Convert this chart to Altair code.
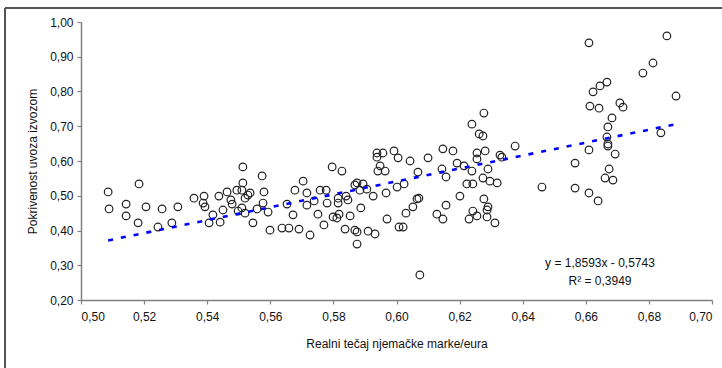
import altair as alt
import pandas as pd

x_vals = [0.5086, 0.5089, 0.5143, 0.5143, 0.5184, 0.5181, 0.5206, 0.5244, 0.5257, 0.5288,
          0.5307, 0.5358, 0.5390, 0.5387, 0.5393, 0.5418, 0.5406, 0.5441, 0.5450, 0.5437,
          0.5463, 0.5475, 0.5479, 0.5494, 0.5498, 0.5513, 0.5513, 0.5510, 0.5529, 0.5536,
          0.5520, 0.5510, 0.5520, 0.5545, 0.5574, 0.5580, 0.5577, 0.5558, 0.5593, 0.5599,
          0.5637, 0.5659, 0.5691, 0.5726, 0.5653, 0.5672, 0.5678, 0.5704, 0.5716, 0.5739,
          0.5716, 0.5751, 0.5770, 0.5758, 0.5777, 0.5780, 0.5796, 0.5827, 0.5799, 0.5811,
          0.5818, 0.5815, 0.5815, 0.5840, 0.5846, 0.5853, 0.5837, 0.5868, 0.5875, 0.5875,
          0.5910, 0.5932, 0.5887, 0.5868, 0.5875, 0.5894, 0.5906, 0.5884, 0.5926, 0.5938,
          0.5957, 0.5938, 0.5948, 0.5941, 0.5964, 0.5967, 0.5992, 0.6005, 0.6002, 0.5970,
          0.6008, 0.6277, 0.6239, 0.6262, 0.6274, 0.6043, 0.6100, 0.6147, 0.6179, 0.6255,
          0.6255, 0.6281, 0.6328, 0.6334, 0.6192, 0.6214, 0.6239, 0.6290, 0.6144, 0.6157,
          0.6068, 0.6274, 0.6296, 0.6319, 0.6223, 0.6242, 0.6024, 0.6201, 0.6065, 0.6071,
          0.6052, 0.6030, 0.6021, 0.6157, 0.6128, 0.6147, 0.6242, 0.6255, 0.6230, 0.6277,
          0.6290, 0.6287, 0.6287, 0.6312, 0.6074, 0.6610, 0.6857, 0.6813, 0.6781, 0.6667,
          0.6645, 0.6623, 0.6613, 0.6642, 0.6708, 0.6718, 0.6886, 0.6683, 0.6670, 0.6667,
          0.6670, 0.6670, 0.6693, 0.6610, 0.6566, 0.6838, 0.6376, 0.6461, 0.6566, 0.6610,
          0.6639, 0.6674, 0.6661, 0.6686]
y_vals = [0.511, 0.462, 0.476, 0.442, 0.534, 0.422, 0.468, 0.410, 0.462, 0.422,
          0.468, 0.493, 0.499, 0.479, 0.468, 0.445, 0.422, 0.424, 0.459, 0.499,
          0.511, 0.488, 0.476, 0.516, 0.456, 0.583, 0.537, 0.516, 0.502, 0.508,
          0.493, 0.465, 0.450, 0.422, 0.557, 0.511, 0.479, 0.462, 0.453, 0.401,
          0.407, 0.407, 0.404, 0.387, 0.476, 0.445, 0.516, 0.542, 0.508, 0.485,
          0.473, 0.447, 0.416, 0.516, 0.516, 0.479, 0.583, 0.571, 0.439, 0.436,
          0.447, 0.493, 0.479, 0.499, 0.488, 0.442, 0.404, 0.401, 0.396, 0.361,
          0.398, 0.390, 0.465, 0.531, 0.537, 0.534, 0.519, 0.516, 0.499, 0.623,
          0.623, 0.611, 0.586, 0.571, 0.571, 0.508, 0.629, 0.609, 0.525, 0.433,
          0.410, 0.738, 0.706, 0.678, 0.672, 0.600, 0.609, 0.635, 0.629, 0.623,
          0.606, 0.629, 0.617, 0.611, 0.594, 0.586, 0.571, 0.577, 0.577, 0.554,
          0.568, 0.551, 0.542, 0.537, 0.534, 0.534, 0.534, 0.499, 0.491, 0.493,
          0.468, 0.450, 0.410, 0.473, 0.447, 0.433, 0.456, 0.442, 0.433, 0.491,
          0.468, 0.459, 0.439, 0.422, 0.272, 0.940, 0.960, 0.882, 0.853, 0.827,
          0.816, 0.799, 0.758, 0.752, 0.767, 0.755, 0.787, 0.724, 0.698, 0.669,
          0.649, 0.643, 0.620, 0.632, 0.594, 0.681, 0.643, 0.525, 0.522, 0.508,
          0.485, 0.577, 0.551, 0.545]

# Linear trend reported on the chart
slope = 1.8593
intercept = -0.5743
eq_labels = ["y = 1,8593x - 0,5743", "R² = 0,3949"]
eq_x = [0.6645, 0.6645]
eq_y = [0.306, 0.255]

x_ticks = [0.50, 0.52, 0.54, 0.56, 0.58, 0.60, 0.62, 0.64, 0.66, 0.68, 0.70]
y_ticks = [0.20, 0.30, 0.40, 0.50, 0.60, 0.70, 0.80, 0.90, 1.00]

x_title = "Realni tečaj njemačke marke/eura"
y_title = "Pokrivenost uvoza izvozom"

FONT = "Liberation Sans"
LABEL_EXPR = "replace(format(datum.value, '.2f'), '.', ',')"

pts = pd.DataFrame({"x": x_vals, "y": y_vals})
x_lo, x_hi = min(x_vals), max(x_vals)
trend = pd.DataFrame({"x": [x_lo, x_hi],
                      "y": [slope * x_lo + intercept, slope * x_hi + intercept]})
eq = pd.DataFrame({"x": eq_x, "y": eq_y, "label": eq_labels})

X = alt.X("x:Q", title=x_title,
          scale=alt.Scale(domain=[0.5, 0.7], nice=False, zero=False),
          axis=alt.Axis(values=x_ticks, labelExpr=LABEL_EXPR, grid=False,
                        domainColor="#808080", domainWidth=1.5,
                        tickColor="#808080", tickWidth=1.2, tickSize=4,
                        labelPadding=7, labelFontSize=12, labelColor="#111",
                        labelFont=FONT, titleFont=FONT, titleFontSize=12,
                        titleFontWeight="normal", titleColor="#111",
                        titlePadding=16))
Y = alt.Y("y:Q", title=y_title,
          scale=alt.Scale(domain=[0.2, 1.0], nice=False, zero=False),
          axis=alt.Axis(values=y_ticks, labelExpr=LABEL_EXPR, grid=False,
                        domainColor="#808080", domainWidth=1.5,
                        tickColor="#808080", tickWidth=1.2, tickSize=4,
                        labelPadding=4, labelFontSize=12, labelColor="#111",
                        labelFont=FONT, titleFont=FONT, titleFontSize=12,
                        titleFontWeight="normal", titleColor="#111",
                        titlePadding=10))

points = alt.Chart(pts).mark_point(
    shape="circle", filled=False, size=58, stroke="#222", strokeWidth=1.2, opacity=1
).encode(x=X, y=Y)

line = alt.Chart(trend).mark_line(
    color="#0000FF", strokeWidth=2.6, strokeDash=[5, 8]
).encode(x=X, y=Y)

text = alt.Chart(eq).mark_text(
    font=FONT, fontSize=12, color="#111", align="center", baseline="middle"
).encode(x=X, y=Y, text="label:N")

frame_left = alt.Chart(pts).mark_rule(color="#555", strokeWidth=1.5).encode(
    x=alt.value(-76), y=alt.value(-14), y2=alt.value(360))
frame_top = alt.Chart(pts).mark_rule(color="#555", strokeWidth=1.5).encode(
    x=alt.value(-76), x2=alt.value(650), y=alt.value(-14))

chart = alt.layer(frame_left, frame_top, points, line, text).properties(
    width=631, height=278,
    padding={"left": 81, "top": 22, "right": 10, "bottom": 68},
    autosize=alt.AutoSizeParams(type="none"),
    background="white",
).configure_view(stroke=None)

chart.save("out.html", embed_options={"renderer": "svg", "actions": False})
